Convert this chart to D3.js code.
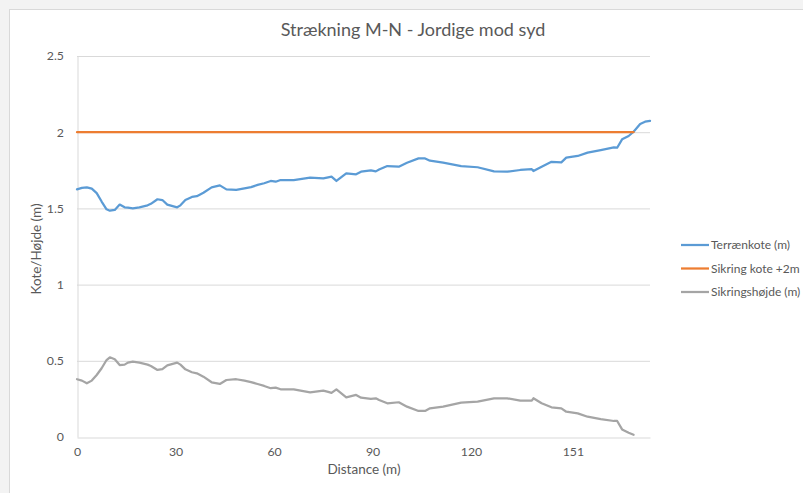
<!DOCTYPE html>
<html>
<head>
<meta charset="utf-8">
<script src="https://cdn.jsdelivr.net/npm/d3@7"></script>
<style>
	body { margin: 0; background: #f3f3f3; }
	svg { display: block; font-family: Lato, "Open Sans", sans-serif; }
</style>
</head>
<body>
<svg id="chart" width="803" height="493"></svg>
<script>
// distance (m) along the stretch, shared by both measured series
var distance = [0, 1.5, 3, 4.5, 6, 7.5, 9, 10, 11.5, 13, 14.5, 15.5, 17, 19, 21.5, 22.5, 24.5, 26, 27.5, 30.5,
	31.5, 33, 35, 36.5, 38.5, 41, 43.5, 45.5, 48.5, 51, 53, 55, 57, 59, 60.5, 62, 66, 71, 75, 76.5,
	77.5, 79, 82, 85, 86.5, 89.5, 91, 92, 94.5, 98, 100.5, 104, 106, 107.5, 111.5, 117, 122, 127, 131, 135,
	138.5, 139, 141.5, 144.5, 147.5, 149, 152.5, 155.5, 159.5, 163.5, 164.5, 166, 168, 169.5, 171.5, 173, 174.5];

var terraenkote = [1.625, 1.635, 1.638, 1.63, 1.6, 1.545, 1.494, 1.485, 1.49, 1.525, 1.507, 1.505, 1.5, 1.507, 1.52, 1.53, 1.56, 1.555, 1.525, 1.507,
	1.52, 1.555, 1.575, 1.58, 1.603, 1.638, 1.651, 1.625, 1.621, 1.632, 1.64, 1.654, 1.665, 1.68, 1.675, 1.686, 1.686, 1.702, 1.697, 1.704,
	1.708, 1.68, 1.73, 1.724, 1.741, 1.75, 1.743, 1.755, 1.778, 1.774, 1.8, 1.828, 1.828, 1.813, 1.8, 1.778, 1.77, 1.743, 1.741, 1.752,
	1.757, 1.745, 1.774, 1.806, 1.802, 1.833, 1.844, 1.866, 1.883, 1.9, 1.898, 1.953, 1.975, 2.003, 2.054, 2.069, 2.075];

var sikringshojde = [0.379, 0.37, 0.352, 0.37, 0.407, 0.451, 0.505, 0.523, 0.51, 0.472, 0.475, 0.488, 0.494, 0.488, 0.475, 0.466, 0.44, 0.445, 0.47, 0.488,
	0.475, 0.444, 0.425, 0.418, 0.396, 0.359, 0.348, 0.374, 0.379, 0.37, 0.36, 0.348, 0.335, 0.32, 0.324, 0.313, 0.313, 0.293, 0.304, 0.296,
	0.29, 0.313, 0.26, 0.276, 0.258, 0.25, 0.254, 0.243, 0.221, 0.228, 0.199, 0.171, 0.171, 0.188, 0.199, 0.225, 0.232, 0.254, 0.254, 0.238,
	0.238, 0.254, 0.221, 0.195, 0.188, 0.166, 0.155, 0.133, 0.118, 0.105, 0.105, 0.05, 0.028, 0.015, null, null, null];

// the +2m line runs until the terrain reaches it
var sikringDistance = [0, 169.5];
var sikringKote = [2, 2];

var xTickValues = [0, 30, 60, 90, 120, 151];
var yTickValues = [0, 0.5, 1, 1.5, 2, 2.5];

var seriesNames = ["Terrænkote (m)", "Sikring kote +2m", "Sikringshøjde (m)"];
var seriesColors = ["#5b9bd5", "#ed7d31", "#a5a5a5"];

var svg = d3.select("#chart");
var margin = {top: 56, right: 153, bottom: 56, left: 77};
var width = 803 - margin.left - margin.right,
	height = 493 - margin.top - margin.bottom;

// white chart area on the grey sheet
svg.append("rect")
	.attr("x", 9.5).attr("y", 9.5)
	.attr("width", 800).attr("height", 490)
	.attr("fill", "#fff")
	.attr("stroke", "#d9d9d9");

svg.append("text")
	.attr("x", 413)
	.attr("y", 36)
	.attr("text-anchor", "middle")
	.attr("font-size", 18)
	.attr("fill", "#595959")
	.text("Strækning M-N - Jordige mod syd");

var g = svg.append("g")
	.attr("transform", "translate(" + margin.left + "," + margin.top + ")");

var x = d3.scaleLinear()
	.domain([0, 174.5])
	.range([0, width]);

var y = d3.scaleLinear()
	.domain([0, 2.5])
	.range([height, 0]);

// gridlines
g.append("g")
	.selectAll("line")
	.data(yTickValues.filter(function(d) { return d > 0; }))
	.enter().append("line")
	.attr("x1", 0)
	.attr("x2", width)
	.attr("y1", function(d) { return y(d) + 0.5; })
	.attr("y2", function(d) { return y(d) + 0.5; })
	.attr("stroke", "#d9d9d9");

var yAxis = g.append("g")
	.call(d3.axisLeft(y).tickValues(yTickValues).tickSize(0).tickPadding(13).tickFormat(function(d) { return d; }));
yAxis.select(".domain").attr("stroke", "#d9d9d9").attr("transform", "translate(0.5,0)");
yAxis.selectAll("text").attr("font-size", 12.3).attr("fill", "#595959").attr("font-family", "Lato, sans-serif");

var xAxis = g.append("g")
	.attr("transform", "translate(0," + height + ")")
	.call(d3.axisBottom(x).tickValues(xTickValues).tickSize(0).tickPadding(10));
xAxis.select(".domain").attr("stroke", "#d9d9d9").attr("transform", "translate(0,0.5)");
xAxis.selectAll("text").attr("font-size", 12.3).attr("fill", "#595959").attr("font-family", "Lato, sans-serif");

// axis titles
svg.append("text")
	.attr("x", 364)
	.attr("y", 474)
	.attr("text-anchor", "middle")
	.attr("font-size", 13.5)
	.attr("fill", "#595959")
	.text("Distance (m)");

svg.append("text")
	.attr("transform", "translate(41,249) rotate(-90)")
	.attr("text-anchor", "middle")
	.attr("font-size", 13.5)
	.attr("fill", "#595959")
	.text("Kote/Højde (m)");

var line = d3.line()
	.defined(function(d) { return d.value !== null; })
	.x(function(d) { return x(d.label); })
	.y(function(d) { return y(d.value); });

var seriesData = [
	distance.map(function(d, i) { return {label: d, value: terraenkote[i]}; }),
	sikringDistance.map(function(d, i) { return {label: d, value: sikringKote[i]}; }),
	distance.map(function(d, i) { return {label: d, value: sikringshojde[i]}; })
];

g.selectAll(".series")
	.data(seriesData)
	.enter().append("path")
	.attr("class", "series")
	.attr("d", function(d) { return line(d); })
	.attr("fill", "none")
	.attr("stroke", function(d, i) { return seriesColors[i]; })
	.attr("stroke-width", 2.25)
	.attr("stroke-linejoin", "round")
	.attr("stroke-linecap", "round");

var legend = svg.append("g")
	.selectAll("g")
	.data(seriesNames)
	.enter().append("g")
	.attr("transform", function(d, i) { return "translate(681," + (245 + i * 23.5) + ")"; });

legend.append("line")
	.attr("x1", 0).attr("x2", 28)
	.attr("stroke", function(d, i) { return seriesColors[i]; })
	.attr("stroke-width", 2.25);

legend.append("text")
	.attr("x", 30)
	.attr("dy", "0.35em")
	.attr("font-size", 12)
	.attr("fill", "#595959")
	.text(function(d) { return d; });
</script>
</body>
</html>
